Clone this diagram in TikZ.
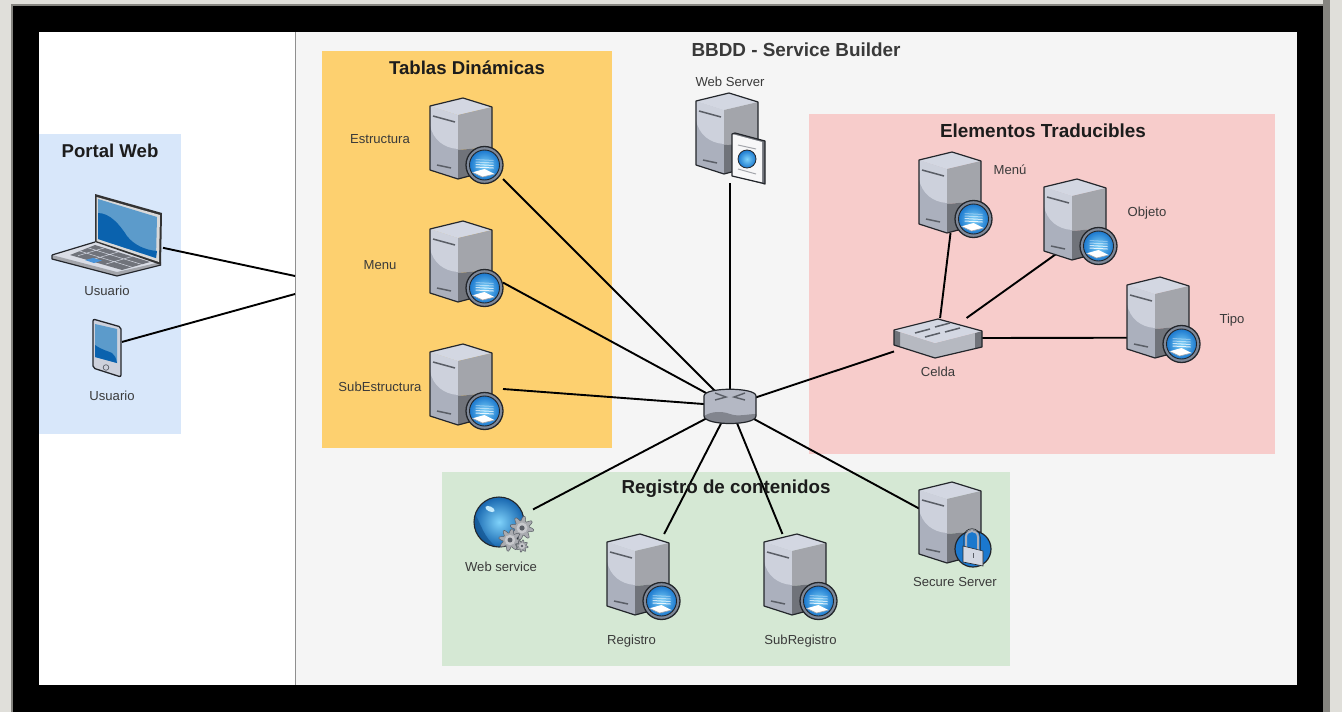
\documentclass[tikz,border=0pt]{standalone}
\usepackage{fontspec}
\setmainfont{Liberation Sans}
\usetikzlibrary{shapes.geometric}
\definecolor{pageBg}{HTML}{E0DFDA}
\definecolor{frameGrey}{HTML}{85847F}
\definecolor{panelBg}{HTML}{F5F5F5}
\definecolor{panelEdge}{HTML}{8F8F8F}
\definecolor{blueBox}{HTML}{D8E7FA}
\definecolor{orangeBox}{HTML}{FDD06F}
\definecolor{pinkBox}{HTML}{F7CCCB}
\definecolor{greenBox}{HTML}{D5E8D4}
\definecolor{edgeDark}{HTML}{23262B}
\definecolor{srvTop}{HTML}{D3D7E2}
\definecolor{srvLeft}{HTML}{ABB0BD}
\definecolor{srvLeftLight}{HTML}{CDD1DC}
\definecolor{srvRight}{HTML}{A3A5AB}
\definecolor{srvRightDark}{HTML}{70737A}
\definecolor{slotDark}{HTML}{5A5E66}
\definecolor{lensOut}{HTML}{1B78CE}
\definecolor{lensIn}{HTML}{7FD2FA}
\definecolor{ringGrey}{HTML}{7E8898}
\definecolor{screenLight}{HTML}{5C9BCB}
\definecolor{screenDark}{HTML}{0A62AE}
\definecolor{gearGrey}{HTML}{A9ABB0}
\definecolor{labelText}{HTML}{3A3A3A}
\definecolor{titleText}{HTML}{1C1C1C}
\tikzset{
  x=1pt,y=-1pt,
  iconbox/.style={minimum width=73pt,minimum height=81pt,inner sep=0pt,outer sep=0pt},
  link/.style={draw=black,line width=1.9pt},
  grouptitle/.style={font=\bfseries\fontsize{18.8}{20}\selectfont,text=titleText,inner sep=0pt},
  smalllabel/.style={font=\fontsize{13.1}{15}\selectfont,text=labelText,inner sep=0pt,yshift=-0.7pt},
  outline/.style={draw=edgeDark,line width=1.2pt,line join=round},
  servericon/.pic={
    \fill[srvLeft] (0,8)--(28,17)--(28,81)--(0,72)--cycle;
    \fill[srvLeftLight] (0,8)--(28,17)--(28,51) .. controls (14,50) and (3,42) .. (0,27)--cycle;
    \fill[srvTop] (0,8)--(33,0)--(62,9)--(28,17)--cycle;
    \fill[srvRight] (28,17)--(62,9)--(62,49)--(28,52)--cycle;
    \fill[srvRightDark] (28,52)--(62,49)--(62,72)--(28,81)--cycle;
    \draw[outline] (0,8)--(33,0)--(62,9)--(62,72)--(28,81)--(0,72)--cycle;
    \draw[slotDark,line width=1.5pt] (3,18)--(25,24) (7,67)--(21,70);
  },
  lensicon/.pic={
    \fill[ringGrey] (0,0) circle[radius=18.5];
    \draw[edgeDark,line width=1.3pt] (0,0) circle[radius=18.5];
    \shade[inner color=lensIn,outer color=lensOut] (0,0) circle[radius=15];
    \draw[edgeDark,line width=.9pt] (0,0) circle[radius=15];
    \foreach \sy/\op in {-6/.35,-3.5/.5,-1/.7,1.5/.85}{
      \fill[white,opacity=\op] (-9,\sy) -- (9,\sy+1) -- (9,\sy+2) -- (-9,\sy+1) -- cycle;
    }
    \fill[white] (-12,7.3)--(0,4)--(10,9)--(-2,12)--cycle;
    \draw[srvRight,line width=.6pt] (-12,7.3)--(-2,12)--(10,9);
  },
  gearicon/.pic={
    \draw[fill=gearGrey,draw=slotDark,line width=.5pt] plot[samples=49,domain=0:360] (\x:{9.6+2.2*sign(sin(8*\x))}) -- cycle;
    \fill[white!35!gearGrey] (0,0) circle[radius=5.5];
    \fill[slotDark] (0,0) circle[radius=2.6];
  },
}
\begin{document}
\begin{tikzpicture}
\useasboundingbox (0,0) rectangle (1342,712);
% page and frame
\fill[pageBg] (0,0) rectangle (1342,712);
\fill[frameGrey] (1323,0) rectangle (1330,712);
\fill[frameGrey] (11,4) rectangle (1323,6);
\fill[frameGrey] (11,4) rectangle (13,712);
\fill[black] (12.5,5.5) rectangle (1323,712);
\fill[white] (39,32) rectangle (1297,685);
% panels
\node[draw=none,fill=panelBg,minimum width=1002pt,minimum height=653pt,inner sep=0pt,outer sep=0pt] (bbdd) at (796,358.5) {};
\draw[panelEdge,line width=1pt] (295,32)--(295,685);
\node[fill=blueBox,minimum width=142pt,minimum height=300pt,inner sep=0pt] (portal) at (110,284) {};
\node[fill=orangeBox,minimum width=290pt,minimum height=397pt,inner sep=0pt] (tablas) at (467,249.5) {};
\node[fill=pinkBox,minimum width=466pt,minimum height=340pt,inner sep=0pt] (elementos) at (1042,284) {};
\node[fill=greenBox,minimum width=568pt,minimum height=194pt,inner sep=0pt] (registroBox) at (726,569) {};
% invisible anchors of the icons
\node[iconbox] (estructura) at (466.5,138.5) {};
\node[iconbox] (menu) at (466.5,261.5) {};
\node[iconbox] (subestructura) at (466.5,384.5) {};
\node[iconbox,minimum width=68pt,minimum height=90pt] (webserver) at (730,138) {};
\node[iconbox] (menuT) at (955.5,192.5) {};
\node[iconbox] (objeto) at (1080.5,219.5) {};
\node[iconbox] (tipo) at (1163.5,317.5) {};
\node[iconbox] (registro) at (643.5,574.5) {};
\node[iconbox] (subregistro) at (800.5,574.5) {};
\node[iconbox] (secure) at (955.5,522.5) {};
\node[iconbox,minimum width=59pt,minimum height=57pt] (webservice) at (503.5,524.5) {};
\node[iconbox,minimum width=111pt,minimum height=82pt] (laptop) at (107.5,235) {};
\node[iconbox,minimum width=30pt,minimum height=58pt] (tablet) at (107,348) {};
\node[iconbox,minimum width=88pt,minimum height=40pt] (celda) at (938,338) {};
\node[ellipse,minimum width=52pt,minimum height=34pt,inner sep=0pt,outer sep=0pt] (router) at (730,406) {};
\coordinate (bbddA) at (295,276);
\coordinate (bbddB) at (295,294);
% connectors
\draw[link] (laptop.-13.2) -- (bbddA);
\draw[link] (tablet.22) -- (bbddB);
\draw[link] (estructura.south east) -- (router);
\draw[link] (menu.-30.5) -- (router);
\draw[link] (subestructura.-7) -- (router);
\draw[link] (webserver.south) -- (router.north);
\draw[link] (celda.197.6) -- (router);
\draw[link] (webservice.27.7) -- (router);
\draw[link] (registro.63) -- (router);
\draw[link] (subregistro.114.5) -- (router);
\draw[link] (secure.159.7) -- (router);
\draw[link] (menuT.-97.7) -- (celda.84.3);
\draw[link,shorten <=-12pt] (objeto.-129.6) -- (celda.35.5);
\draw[link] (tipo.209.3) -- (celda.east);
% servers with lens
\foreach \px/\py in {430/98,430/221,430/344,919/152,1044/179,1127/277,607/534,764/534}{
  \pic at (\px,\py) {servericon};
  \pic at (\px+54.5,\py+67) {lensicon};
}
% web server
\pic at (696,93) {servericon};
\fill[srvRightDark] (732,134)--(735,133)--(765,141)--(765,184)--(763,184)--(732,176)--cycle;
\fill[white!90!srvLeft] (732,134)--(762,142)--(762,183)--(732,176)--cycle;
\draw[outline] (732,134)--(735,133)--(765,141)--(765,184)--(762,183)--(732,176)--cycle;
\draw[srvRight,line width=1pt] (738,145)--(756,149) (738,169)--(756,174);
\shade[inner color=lensIn,outer color=lensOut] (747,159) circle[radius=9];
\draw[edgeDark,line width=.8pt] (747,159) circle[radius=9];
% secure server
\pic at (919,482) {servericon};
\fill[lensOut] (973,549) circle[radius=18];
\draw[edgeDark,line width=1.2pt] (973,549) circle[radius=18];
\draw[srvLeft,line width=2pt] (966,548) -- (966,537) .. controls (966,529) and (978,529) .. (978,537) -- (978,550);
\draw[edgeDark,line width=.6pt] (963.8,548) -- (963.8,537) .. controls (964,526) and (980,526) .. (980.2,537) -- (980.2,550);
\fill[srvTop] (963,546)--(983,551)--(983,566)--(963,562)--cycle;
\draw[edgeDark,line width=.6pt] (963,546)--(983,551)--(983,566)--(963,562)--cycle;
\draw[slotDark,line width=1pt] (973,553)--(973,558);
% web service globe
\shade[inner color=lensIn,outer color=lensOut!85!black] (499,522) circle[radius=25];
\fill[lensOut!70!black,opacity=.7] (475.5,515) .. controls (481,524) and (484,538) .. (496,546.5) .. controls (483,547) and (471,532) .. (475.5,515) -- cycle;
\draw[edgeDark,line width=1.1pt] (499,522) circle[radius=25];
\fill[white!55!lensIn,rotate around={-25:(490,509)}] (490,509) ellipse[x radius=5,y radius=2.5];
\pic at (522,528) {gearicon};
\pic[scale=.95] at (510,540) {gearicon};
\pic[scale=.52] at (522,546) {gearicon};
% router
\fill[srvLeft!90!white] (704,396) .. controls (704,387) and (756,387) .. (756,396) -- (756,416) .. controls (756,426) and (704,426) .. (704,416) -- cycle;
\fill[srvRightDark!70!srvLeft] (704,416) .. controls (712,411) and (722,411) .. (730,414) .. controls (738,417) and (748,414) .. (756,414) -- (756,416) .. controls (756,426) and (704,426) .. (704,416) -- cycle;
\draw[outline] (704,396) .. controls (704,387) and (756,387) .. (756,396) -- (756,416) .. controls (756,426) and (704,426) .. (704,416) -- cycle;
\draw[slotDark,line width=1.4pt] (715,393)--(726,397)--(715,400) (745,393)--(734,397)--(745,400);
% switch Celda
\fill[srvRight!60!srvTop] (894,330)--(935,343)--(982,331)--(982,347)--(935,358)--(894,345)--cycle;
\fill[srvRightDark] (894,330)--(900,332)--(900,347)--(894,345)--cycle;
\fill[srvRightDark] (982,331)--(975,333)--(975,349)--(982,347)--cycle;
\fill[srvTop] (894,330)--(938,319)--(982,331)--(935,343)--cycle;
\draw[outline] (894,330)--(938,319)--(982,331)--(982,347)--(935,358)--(894,345)--cycle;
\draw[slotDark,line width=1.5pt] (915,333)--(930,329) (935,327)--(950,323) (925,337)--(940,333) (945,332)--(960,328);
% laptop
\fill[srvTop!85!white] (52,255)--(95,242)--(161,262)--(117,272)--cycle;
\fill[srvRight] (52,255)--(117,272)--(161,262)--(161,265)--(117,276)--(52,259)--cycle;
\fill[slotDark!70!srvRight] (95,245)--(150,262)--(122,270)--(70,255)--cycle;
\draw[srvTop,line width=.5pt] (87,247.5)--(142,264.5) (78,250.5)--(133,267.5) (104,248)--(78,255.7) (118,252)--(92,259.7) (132,256.5)--(106,264);
\fill[lensOut!80!white] (85,260)--(93,258)--(102,260.5)--(94,263)--cycle;
\draw[outline] (52,255)--(95,242) (161,265)--(117,276)--(52,259)--(52,255);
\fill[black!80] (95,194)--(162,213)--(161,265)--(95,242)--cycle;
\fill[white!85!black] (96.5,197)--(160,215)--(159,262)--(96.5,241)--cycle;
\fill[screenLight] (98,199)--(157,217)--(156,258)--(98,239)--cycle;
\fill[screenDark] (98,213) .. controls (110,213) and (120,225) .. (127,236) .. controls (134,245) and (145,250) .. (157,251) -- (156,258) -- (98,239) -- cycle;
% tablet
\fill[srvLeftLight,rounded corners=2pt] (93,319)--(121,327)--(121,377)--(93,368)--cycle;
\draw[edgeDark,line width=1.3pt,rounded corners=2pt] (93,319)--(121,327)--(121,377)--(93,368)--cycle;
\fill[screenLight] (95,324)--(117,329)--(117,363)--(95,357)--cycle;
\fill[screenDark] (95,345) .. controls (102,350) and (108,351) .. (112,353) .. controls (115,355) and (116,358) .. (117,363) -- (95,357) -- cycle;
\draw[slotDark,line width=.7pt] (106,367.5) circle[radius=2.8];
% texts
\node[grouptitle,font=\bfseries\fontsize{18.6}{20}\selectfont] at (110,151) {Portal Web};
\node[grouptitle,font=\bfseries\fontsize{18.6}{20}\selectfont] at (467,68) {Tablas Dinámicas};
\node[grouptitle,text=labelText,font=\bfseries\fontsize{18.9}{20}\selectfont] at (796,50) {BBDD - Service Builder};
\node[grouptitle,font=\bfseries\fontsize{18.9}{20}\selectfont] at (1043,131) {Elementos Traducibles};
\node[grouptitle] at (726,489) {Registro de contenidos};
\node[smalllabel] at (107,290) {Usuario};
\node[smalllabel] at (112,395) {Usuario};
\node[smalllabel] at (380,138) {Estructura};
\node[smalllabel] at (380,264) {Menu};
\node[smalllabel] at (380,386) {SubEstructura};
\node[smalllabel] at (730,81) {Web Server};
\node[smalllabel] at (1010,169) {Menú};
\node[smalllabel] at (1147,212) {Objeto};
\node[smalllabel] at (1232,319) {Tipo};
\node[smalllabel] at (938,371) {Celda};
\node[smalllabel] at (501,566) {Web service};
\node[smalllabel] at (631.5,640) {Registro};
\node[smalllabel] at (800.5,640) {SubRegistro};
\node[smalllabel] at (955,581) {Secure Server};
\end{tikzpicture}
\end{document}
